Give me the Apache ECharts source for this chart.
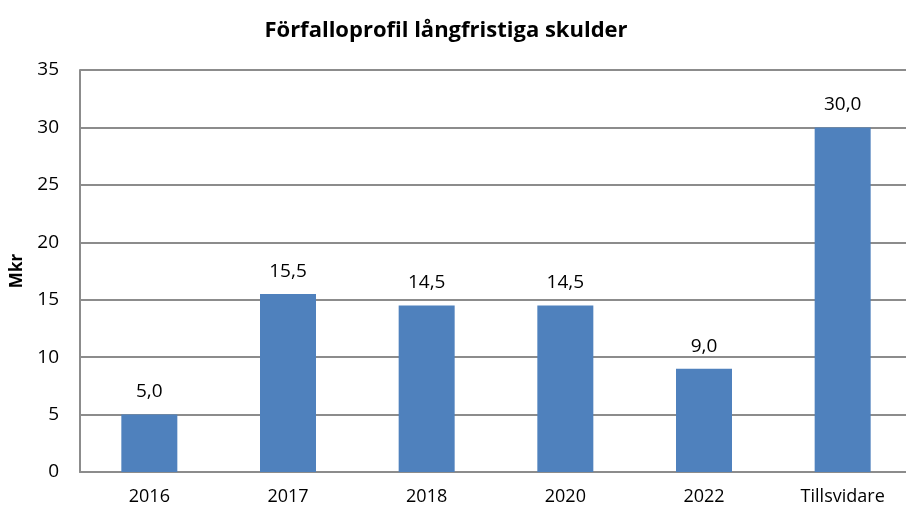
<!DOCTYPE html>
<html>
<head>
<meta charset="utf-8">
<script src="https://cdn.jsdelivr.net/npm/echarts@6/dist/echarts.min.js"></script>
<style>
  html, body { margin: 0; padding: 0; background: #fff; }
  #chart { width: 906px; height: 513px; }
</style>
</head>
<body>
<div id="chart"></div>
<script>
const categories = ['2016', '2017', '2018', '2020', '2022', 'Tillsvidare'];
const values = [5.0, 15.5, 14.5, 14.5, 9.0, 30.0];

const FONT = '"Open Sans", "Liberation Sans", sans-serif';
const GRID_COLOR = '#8c8c8c';

const chart = echarts.init(document.getElementById('chart'));
chart.setOption({
  animation: false,
  title: {
    text: 'Förfalloprofil långfristiga skulder',
    left: 441,
    textAlign: 'center',
    top: 15,
    textStyle: { fontFamily: FONT, fontSize: 22, fontWeight: 'bold', color: '#000' },
  },
  // grid runs past the right edge of the picture, so no outer-bounds clamping
  grid: { left: 80, width: 832, top: 70, bottom: 41, outerBoundsMode: 'none', containLabel: false },
  xAxis: {
    type: 'category',
    data: categories,
    axisLine: { lineStyle: { color: GRID_COLOR, width: 2 } },
    axisTick: { show: false },
    axisLabel: { fontFamily: FONT, fontSize: 18, color: '#000', margin: 16 },
  },
  yAxis: {
    type: 'value',
    min: 0,
    max: 35,
    interval: 5,
    name: 'Mkr',
    nameLocation: 'middle',
    nameGap: 54,
    nameTextStyle: { fontFamily: FONT, fontSize: 17, fontWeight: 'bold', color: '#000' },
    axisLine: { show: true, lineStyle: { color: GRID_COLOR, width: 2 } },
    axisTick: { show: false },
    splitLine: { lineStyle: { color: GRID_COLOR, width: 2 } },
    axisLabel: { fontFamily: FONT, fontSize: 19, color: '#000', margin: 21 },
  },
  series: [{
    type: 'bar',
    data: values,
    barWidth: 56,
    itemStyle: { color: '#4f81bd' },
    label: {
      show: true,
      position: 'top',
      distance: 13,
      fontFamily: FONT,
      fontSize: 19,
      color: '#000',
      formatter: p => p.value.toFixed(1).replace('.', ','),
    },
  }],
});
</script>
</body>
</html>
